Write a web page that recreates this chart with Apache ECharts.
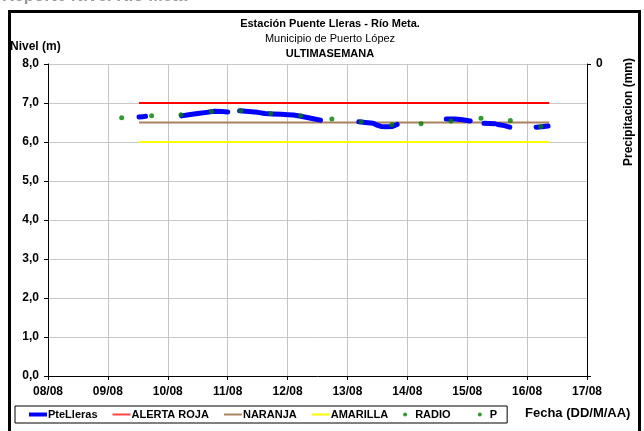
<!DOCTYPE html>
<html>
<head>
<meta charset="utf-8">
<script src="https://cdn.jsdelivr.net/npm/echarts@6/dist/echarts.min.js"></script>
<style>
html,body{margin:0;padding:0;background:#fff;}
#chart{width:644px;height:431px;}
</style>
</head>
<body>
<div id="chart"></div>
<script>
// X values are days since 08/08 00:00
var dayLabels = ['08/08','09/08','10/08','11/08','12/08','13/08','14/08','15/08','16/08','17/08'];
var yTickLabels = ['0,0','1,0','2,0','3,0','4,0','5,0','6,0','7,0','8,0'];

// PteLleras level readings (day, m); null = gap
var pteLleras = [
  [1.52,6.64],[1.58,6.65],[1.63,6.66],[1.7,null],
  [2.23,6.67],[2.35,6.70],[2.5,6.73],[2.65,6.76],[2.78,6.79],[2.9,6.78],[3.0,6.77],[3.1,null],
  [3.2,6.80],[3.35,6.78],[3.5,6.76],[3.62,6.73],[3.75,6.72],[3.9,6.71],[4.0,6.70],[4.1,6.69],[4.22,6.66],[4.35,6.62],[4.45,6.59],[4.55,6.56],[4.8,null],
  [5.19,6.52],[5.3,6.50],[5.43,6.48],[5.48,6.44],[5.56,6.40],[5.66,6.39],[5.75,6.40],[5.83,6.45],[6.2,null],
  [6.65,6.59],[6.8,6.59],[6.92,6.57],[7.05,6.54],[7.15,null],
  [7.28,6.48],[7.46,6.47],[7.48,null],
  [7.51,6.45],[7.62,6.42],[7.71,6.38],[7.9,null],
  [8.15,6.38],[8.25,6.39],[8.35,6.41]
];
// RADIO readings (day, m)
var radioDays = [1.23,1.73,2.22,2.73,3.22,3.72,4.22,4.74,5.23,5.74,6.23,6.73,7.23,7.72,8.23];
var radioVals = [6.62,6.67,6.70,6.78,6.80,6.73,6.67,6.59,6.52,6.44,6.47,6.54,6.61,6.55,6.40];
// Alert thresholds
var alertStart = 1.52, alertEnd = 8.37;
var alertaRoja = 7.0, naranja = 6.5, amarilla = 6.0;
// Precipitation (no data)
var precip = [];

var radio = radioDays.map(function(d,i){return [d, radioVals[i]];});
function flat(v){return [[alertStart,v],[alertEnd,v]];}

var font = '"Liberation Sans", Arial, sans-serif';
var thinIcon = 'path://M0,0H18V2H0Z';
var thickIcon = 'path://M0,0H18V4H0Z';
var chart = echarts.init(document.getElementById('chart'), null, {renderer:'canvas'});
chart.setOption({
  animation:false,
  backgroundColor:'#fff',
  textStyle:{fontFamily:font},
  title:[
    {text:'Estación Puente Lleras - Río Meta.', left:325, top:13, textAlign:'center',
     textStyle:{fontFamily:font,fontSize:11,fontWeight:'bold',color:'#000'}},
    {text:'Municipio de Puerto López', left:325, top:28, textAlign:'center',
     textStyle:{fontFamily:font,fontSize:11,fontWeight:'normal',color:'#000'}},
    {text:'ULTIMASEMANA', left:325, top:43, textAlign:'center',
     textStyle:{fontFamily:font,fontSize:11,fontWeight:'bold',color:'#000'}}
  ],
  graphic:[
    {type:'text', left:2, top:-12, style:{text:'Reporte Nivel Río Meta', fontFamily:font, fontSize:17, fontWeight:'bold', fill:'#999'}},
    {type:'rect', shape:{x:9.5,y:11.5,width:630,height:440}, style:{fill:'none',stroke:'#000',lineWidth:3}, z:-1},
    {type:'text', left:10, top:41, style:{text:'Nivel (m)', fontFamily:font, fontSize:12, fontWeight:'bold', fill:'#000'}},
    {type:'text', x:525, y:407, style:{text:'Fecha (DD/M/AA)', fontFamily:font, fontSize:13, fontWeight:'bold', fill:'#000'}},
    {type:'text', x:623, y:166, rotation:Math.PI/2, style:{text:'Precipitacion (mm)', fontFamily:font, fontSize:12, fontWeight:'bold', fill:'#000'}}
  ],
  grid:{left:48, right:57, top:64, bottom:55, containLabel:false},
  legend:{
    left:15, top:406, orient:'horizontal',
    padding:[3,10,3,14], borderColor:'#000', borderWidth:1,
    itemWidth:18, itemHeight:4, itemGap:15, symbolKeepAspect:true,
    formatter:function(name){return name==='RADIO' ? 'RADIO    ' : name;},
    textStyle:{fontFamily:font, fontSize:11, fontWeight:'bold', color:'#000', padding:[0,0,0,-4]},
    data:[
      {name:'PteLleras', icon:thickIcon},
      {name:'ALERTA ROJA', icon:thinIcon, itemStyle:{color:'#ff4444'}},
      {name:'NARANJA', icon:thinIcon},
      {name:'AMARILLA', icon:thinIcon},
      {name:'RADIO', icon:'circle'},
      {name:'P', icon:'circle'}
    ]
  },
  xAxis:{
    type:'value', min:0, max:9, interval:1,
    axisLine:{show:true, onZero:false, lineStyle:{color:'#000', width:1}},
    axisTick:{show:true, length:4, lineStyle:{color:'#000'}},
    axisLabel:{margin:10, fontFamily:font, fontSize:12, fontWeight:'bold', color:'#000',
      formatter:function(v){return dayLabels[Math.round(v)];}},
    splitLine:{show:true, lineStyle:{color:'#c4c4c4', width:1}}
  },
  yAxis:[
    {type:'value', min:0, max:8, interval:1, position:'left',
     axisLine:{show:true, lineStyle:{color:'#000', width:1}},
     axisTick:{show:true, length:4, lineStyle:{color:'#000'}},
     axisLabel:{margin:9, fontFamily:font, fontSize:12, fontWeight:'bold', color:'#000',
       formatter:function(v){return yTickLabels[Math.round(v)];}},
     splitLine:{show:true, lineStyle:{color:'#c8c8c8', width:1}}},
    {type:'value', min:0, max:1, interval:1, inverse:true, position:'right',
     axisLine:{show:true, lineStyle:{color:'#000', width:1}},
     axisTick:{show:true, length:4, lineStyle:{color:'#000'}},
     axisLabel:{margin:9, fontFamily:font, fontSize:12, fontWeight:'bold', color:'#000',
       formatter:function(v){return v===0?'0':'';}},
     splitLine:{show:false}}
  ],
  series:[
    {name:'PteLleras', type:'line', data:pteLleras, symbol:'none', connectNulls:false,
     lineStyle:{color:'#0000ff', width:5, cap:'round', join:'round'}, itemStyle:{color:'#0000ff'}, z:5},
    {name:'ALERTA ROJA', type:'line', data:flat(alertaRoja), symbol:'none',
     lineStyle:{color:'#ff0000', width:2}, itemStyle:{color:'#ff0000'}, z:3},
    {name:'NARANJA', type:'line', data:flat(naranja), symbol:'none',
     lineStyle:{color:'#a9825e', width:2}, itemStyle:{color:'#a9825e'}, z:3},
    {name:'AMARILLA', type:'line', data:flat(amarilla), symbol:'none',
     lineStyle:{color:'#ffff00', width:2}, itemStyle:{color:'#ffff00'}, z:3},
    {name:'RADIO', type:'scatter', data:radio, symbol:'circle', symbolSize:5,
     itemStyle:{color:'#008000'}, z:6},
    {name:'P', type:'scatter', yAxisIndex:1, data:precip, symbol:'circle', symbolSize:3,
     itemStyle:{color:'#008000'}}
  ]
});
</script>
</body>
</html>
